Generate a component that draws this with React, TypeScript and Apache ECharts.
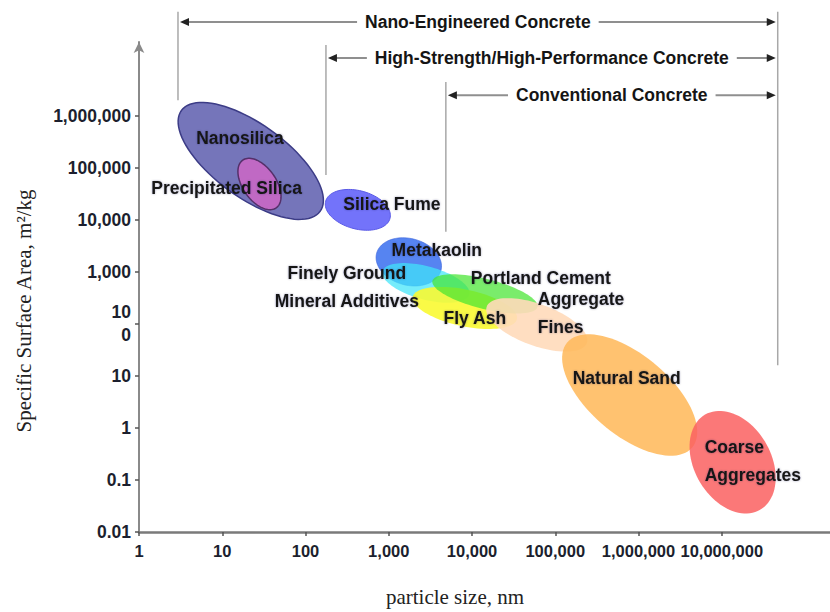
import React, { useEffect, useRef } from "react";
import * as echarts from "echarts";

// ---------- axis ticks (log10 positions) ----------
const xTickValues = [0, 1, 2, 3, 4, 5, 6, 7];
const xTickLabels = ["1", "10", "100", "1,000", "10,000", "100,000", "1,000,000", "10,000,000"];
const yTickValues = [-2, -1, 0, 1, 2, 3, 4, 5, 6];
const yTickLabels = ["0.01", "0.1", "1", "10", "10\n0", "1,000", "10,000", "100,000", "1,000,000"];

// ---------- materials (ellipses) ----------
const materials = [
  "Nanosilica",
  "Precipitated Silica",
  "Silica Fume",
  "Metakaolin",
  "Finely Ground Mineral Additives",
  "Fly Ash",
  "Portland Cement",
  "Aggregate Fines",
  "Natural Sand",
  "Coarse Aggregates",
];
const centerSizeNm = [22, 28, 425, 1740, 2790, 8200, 14300, 60000, 783000, 13500000];
const centerSSA = [136000, 49000, 15600, 1560, 614, 203, 378, 96, 4.3, 0.22];
const semiMajorDec = [1.03, 0.35, 0.4, 0.4, 0.54, 0.64, 0.65, 0.64, 0.98, 0.66];
const semiMinorDec = [0.44, 0.2, 0.23, 0.28, 0.2, 0.22, 0.18, 0.25, 0.48, 0.46];
const tiltDeg = [36, 55, 15, 15, 15, 12, 14, 20, 40, 60];

// ---------- material labels ----------
const labelTexts = [
  "Nanosilica",
  "Precipitated Silica",
  "Silica Fume",
  "Metakaolin",
  "Finely Ground\nMineral Additives",
  "Fly Ash",
  "Portland Cement",
  "Aggregate\nFines",
  "Natural Sand",
  "Coarse\nAggregates",
];
const labelSizeNm = [16.3, 11.3, 1090, 3780, 314, 10800, 67000, 61600, 721000, 6240000];
const labelSSA = [378000, 41200, 20300, 2650, 515, 130, 767, 163, 9.2, 0.232];

// ---------- concrete ranges ----------
const rangeNames = [
  "Nano-Engineered Concrete",
  "High-Strength/High-Performance Concrete",
  "Conventional Concrete",
];
const rangeFromNm = [2.94, 176, 4850];
const rangeToNm = [4.7e7, 4.7e7, 4.7e7];
const rangeRowSSA = [6.4e7, 1.3e7, 2.5e6];
const rangeStartTopSSA = [1e8, 2.3e7, 4.5e6];
const rangeStartBottomSSA = [2.0e6, 7.3e4, 5.9e3];
const rangeEndTopSSA = 1e8;
const rangeEndBottomSSA = 16;

// ---------- styles ----------
const fills = [
  "rgba(110,110,182,0.95)",
  "rgba(196,104,196,0.95)",
  "rgba(108,108,250,0.95)",
  "rgba(72,122,240,0.92)",
  "rgba(64,228,250,0.72)",
  "rgba(250,250,50,0.9)",
  "rgba(70,228,50,0.72)",
  "rgba(255,218,186,0.9)",
  "rgba(255,186,92,0.88)",
  "rgba(250,96,96,0.85)",
];
const strokes = [
  "#3c3c86",
  "#55306a",
  "#5a5ae6",
  "rgba(60,100,220,0.6)",
  "rgba(0,0,0,0)",
  "rgba(0,0,0,0)",
  "rgba(0,0,0,0)",
  "rgba(0,0,0,0)",
  "rgba(0,0,0,0)",
  "rgba(0,0,0,0)",
];
const strokeWidths = [1.5, 1.5, 1, 1, 0, 0, 0, 0, 0, 0];
const labelAligns = ["center", "center", "center", "center", "center", "center", "center", "left", "center", "left"];

const FONT = "'Liberation Sans', Arial, sans-serif";
const LABEL_FONT = `bold 17.5px ${FONT}`;
const TEXT_COLOR = "#1c1f2e";
const SERIF = "21px 'Liberation Serif', 'DejaVu Serif', serif";

const lg = (v: number) => Math.log10(v);

export default function App() {
  const ref = useRef<HTMLDivElement>(null);

  useEffect(() => {
    if (!ref.current) return;
    const chart = echarts.init(ref.current, undefined, { renderer: "svg" });

    const ellipseData = materials.map((_, i) => [
      lg(centerSizeNm[i]),
      lg(centerSSA[i]),
      semiMajorDec[i],
      semiMinorDec[i],
      tiltDeg[i],
    ]);
    const labelData = labelTexts.map((_, i) => [lg(labelSizeNm[i]), lg(labelSSA[i]), i]);
    const rangeData = rangeNames.map((_, i) => [
      lg(rangeFromNm[i]),
      lg(rangeToNm[i]),
      lg(rangeRowSSA[i]),
      lg(rangeStartTopSSA[i]),
      lg(rangeStartBottomSSA[i]),
      i,
    ]);

    const option: any = {
      animation: false,
      backgroundColor: "#ffffff",
      grid: { left: 139, right: 0, top: 42, bottom: 80, containLabel: false },
      xAxis: {
        type: "value",
        min: 0,
        max: 8.3,
        axisLine: { show: true, onZero: false, lineStyle: { color: "#7a7a7a", width: 2.5 } },
        axisTick: {
          show: true,
          length: 4,
          customValues: xTickValues,
          lineStyle: { color: "#555", width: 1.5 },
        },
        axisLabel: {
          customValues: xTickValues,
          margin: 10,
          fontFamily: FONT,
          fontWeight: "bold",
          fontSize: 16.5,
          color: TEXT_COLOR,
          formatter: (v: number) => {
            const idx = xTickValues.indexOf(Math.round(v));
            return idx >= 0 ? xTickLabels[idx] : "";
          },
        },
        splitLine: { show: false },
      },
      yAxis: {
        type: "value",
        min: -2,
        max: 7.42,
        axisLine: {
          show: true,
          onZero: false,
          symbol: ["none", "arrow"],
          symbolSize: [8, 11],
          lineStyle: { color: "#8a8a8a", width: 2 },
        },
        axisTick: {
          show: true,
          length: 4,
          customValues: yTickValues,
          lineStyle: { color: "#555", width: 1.5 },
        },
        axisLabel: {
          customValues: yTickValues,
          margin: 8,
          fontFamily: FONT,
          fontWeight: "bold",
          fontSize: 17.5,
          lineHeight: 23,
          color: TEXT_COLOR,
          formatter: (v: number) => {
            const idx = yTickValues.indexOf(Math.round(v));
            return idx >= 0 ? yTickLabels[idx] : "";
          },
        },
        splitLine: { show: false },
      },
      graphic: [
        {
          type: "text",
          x: 24,
          y: 311,
          rotation: Math.PI / 2,
          style: {
            text: "Specific Surface Area, m²/kg",
            font: SERIF,
            fill: "#222",
            align: "center",
            verticalAlign: "middle",
          },
        },
        {
          type: "text",
          x: 455,
          y: 597,
          style: {
            text: "particle size, nm",
            font: SERIF,
            fill: "#222",
            align: "center",
            verticalAlign: "middle",
          },
        },
      ],
      series: [
        {
          type: "custom",
          name: "materials",
          silent: true,
          clip: false,
          encode: { x: 0, y: 1 },
          data: ellipseData,
          renderItem: (params: any, api: any) => {
            const i = params.dataIndex;
            const c = api.coord([api.value(0), api.value(1)]);
            const pxPerDec = api.size([1, 0])[0];
            const a = api.value(2) * pxPerDec;
            const b = api.value(3) * pxPerDec;
            const ang = (api.value(4) * Math.PI) / 180;
            const pts: number[][] = [];
            const n = 90;
            for (let k = 0; k < n; k++) {
              const t = (k / n) * Math.PI * 2;
              const ex = a * Math.cos(t);
              const ey = b * Math.sin(t);
              pts.push([
                c[0] + ex * Math.cos(ang) - ey * Math.sin(ang),
                c[1] + ex * Math.sin(ang) + ey * Math.cos(ang),
              ]);
            }
            return {
              type: "polygon",
              shape: { points: pts },
              style: { fill: fills[i], stroke: strokes[i], lineWidth: strokeWidths[i] },
            };
          },
        },
        {
          type: "custom",
          name: "labels",
          silent: true,
          clip: false,
          encode: { x: 0, y: 1 },
          data: labelData,
          z: 5,
          renderItem: (params: any, api: any) => {
            const i = params.dataIndex;
            const c = api.coord([api.value(0), api.value(1)]);
            return {
              type: "text",
              x: c[0],
              y: c[1],
              style: {
                text: labelTexts[i],
                font: LABEL_FONT,
                fill: "#151515",
                align: labelAligns[i],
                verticalAlign: "middle",
                lineHeight: 28,
                textShadowColor: "rgba(20,20,80,0.35)",
                textShadowBlur: 2,
              },
            };
          },
        },
        {
          type: "custom",
          name: "ranges",
          silent: true,
          clip: false,
          encode: { x: 0, y: 2 },
          data: rangeData,
          z: 6,
          renderItem: (params: any, api: any) => {
            const i = params.dataIndex;
            const pL = api.coord([api.value(0), api.value(2)]);
            const pR = api.coord([api.value(1), api.value(2)]);
            const top = api.coord([api.value(0), api.value(3)]);
            const bot = api.coord([api.value(0), api.value(4)]);
            const y = pL[1];
            const xL = pL[0];
            const xR = pR[0];
            const gray = "#8f8f8f";
            const children: any[] = [
              {
                type: "line",
                shape: { x1: xL, y1: top[1], x2: xL, y2: bot[1] },
                style: { stroke: "#a8a8a8", lineWidth: 1.5 },
              },
              {
                type: "line",
                shape: { x1: xL + 6, y1: y, x2: xR - 6, y2: y },
                style: { stroke: gray, lineWidth: 2 },
              },
              {
                type: "polygon",
                shape: { points: [[xL + 2, y], [xL + 11, y - 4], [xL + 11, y + 4]] },
                style: { fill: "#222" },
              },
              {
                type: "polygon",
                shape: { points: [[xR - 2, y], [xR - 11, y - 4], [xR - 11, y + 4]] },
                style: { fill: "#222" },
              },
              {
                type: "text",
                x: (xL + xR) / 2,
                y: y,
                style: {
                  text: rangeNames[i],
                  font: LABEL_FONT,
                  fill: "#151515",
                  align: "center",
                  verticalAlign: "middle",
                  backgroundColor: "#ffffff",
                  padding: [1, 8, 1, 8],
                },
              },
            ];
            if (i === 0) {
              const rt = api.coord([api.value(1), lg(rangeEndTopSSA)]);
              const rb = api.coord([api.value(1), lg(rangeEndBottomSSA)]);
              children.unshift({
                type: "line",
                shape: { x1: rt[0], y1: rt[1], x2: rb[0], y2: rb[1] },
                style: { stroke: "#a8a8a8", lineWidth: 1.5 },
              });
            }
            return { type: "group", children };
          },
        },
      ],
    };

    chart.setOption(option);
    return () => chart.dispose();
  }, []);

  return (
    <div
      ref={ref}
      style={{ position: "absolute", left: 0, top: 0, width: 830, height: 612, background: "#fff" }}
    />
  );
}
